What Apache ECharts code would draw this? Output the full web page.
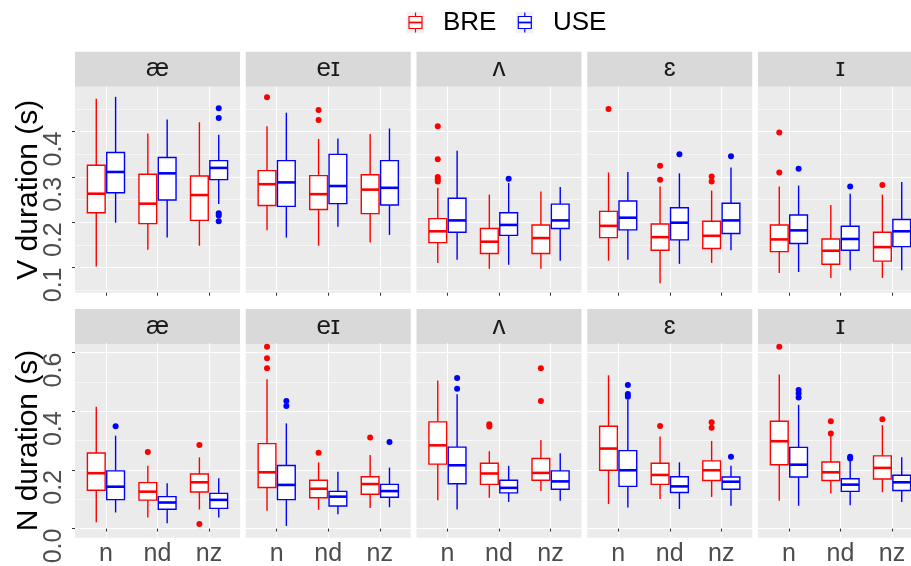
<!DOCTYPE html>
<html>
<head>
<meta charset="utf-8">
<script src="https://cdn.jsdelivr.net/npm/echarts@6/dist/echarts.min.js"></script>
<style>
html,body{margin:0;padding:0;background:#fff;}
#chart{width:911px;height:566px;}
</style>
</head>
<body>
<div id="chart"></div>
<script>
// ---------------- data ----------------
const vowels = ['æ', 'eɪ', 'ʌ', 'ɛ', 'ɪ'];
const contexts = ['n', 'nd', 'nz'];
const groups = ['BRE', 'USE'];
const rowTitles = ['V duration (s)', 'N duration (s)'];

// y tick labels
const vTicks = [0.1, 0.2, 0.3, 0.4];
const vMinor = [0.05, 0.15, 0.25, 0.35, 0.45];
const nTicks = [0.0, 0.2, 0.4, 0.6];
const nMinor = [0.1, 0.3, 0.5];

// boxes: per vowel -> [n, nd, nz] -> [lower whisker, Q1, median, Q3, upper whisker]
const vBRE = [
  [[0.102,0.221,0.263,0.326,0.473],[0.139,0.197,0.241,0.306,0.396],[0.148,0.204,0.260,0.302,0.421]],
  [[0.182,0.237,0.284,0.314,0.412],[0.148,0.228,0.262,0.303,0.384],[0.155,0.219,0.272,0.305,0.395]],
  [[0.110,0.155,0.180,0.208,0.276],[0.097,0.131,0.157,0.186,0.261],[0.097,0.131,0.165,0.194,0.268]],
  [[0.115,0.166,0.192,0.224,0.310],[0.065,0.138,0.167,0.196,0.279],[0.110,0.142,0.170,0.202,0.270]],
  [[0.088,0.135,0.162,0.194,0.279],[0.077,0.107,0.137,0.163,0.238],[0.077,0.114,0.145,0.178,0.261]]
];
const vUSE = [
  [[0.199,0.265,0.311,0.354,0.477],[0.166,0.249,0.308,0.343,0.427],[0.240,0.294,0.320,0.336,0.393]],
  [[0.166,0.235,0.288,0.336,0.442],[0.190,0.241,0.280,0.350,0.385],[0.172,0.238,0.276,0.336,0.407]],
  [[0.117,0.178,0.204,0.253,0.358],[0.106,0.171,0.194,0.221,0.287],[0.115,0.186,0.204,0.240,0.278]],
  [[0.117,0.183,0.210,0.247,0.311],[0.108,0.161,0.199,0.232,0.308],[0.138,0.175,0.204,0.242,0.321]],
  [[0.090,0.153,0.182,0.216,0.281],[0.094,0.138,0.163,0.191,0.263],[0.094,0.146,0.180,0.206,0.289]]
];
const vOutBRE = [
  [[], [], []],
  [[0.476], [0.448, 0.426], []],
  [[0.412, 0.339, 0.300, 0.295, 0.290], [], []],
  [[0.450], [0.325, 0.294], [0.301, 0.290]],
  [[0.398, 0.310], [], [0.282]]
];
const vOutUSE = [
  [[], [], [0.452, 0.430, 0.220, 0.215, 0.202]],
  [[], [], []],
  [[], [0.296], []],
  [[], [0.350], [0.346]],
  [[0.318], [0.279], []]
];

const nBRE = [
  [[0.022,0.131,0.189,0.258,0.416],[0.038,0.097,0.126,0.157,0.214],[0.065,0.125,0.158,0.186,0.243]],
  [[0.061,0.140,0.192,0.290,0.509],[0.064,0.105,0.136,0.165,0.226],[0.070,0.117,0.152,0.177,0.251]],
  [[0.097,0.220,0.284,0.364,0.505],[0.105,0.151,0.188,0.223,0.264],[0.128,0.165,0.190,0.239,0.302]],
  [[0.084,0.199,0.273,0.349,0.523],[0.101,0.151,0.183,0.223,0.314],[0.108,0.164,0.199,0.231,0.299]],
  [[0.095,0.218,0.298,0.366,0.526],[0.120,0.164,0.192,0.227,0.317],[0.124,0.169,0.207,0.248,0.353]]
];
const nUSE = [
  [[0.055,0.099,0.143,0.197,0.317],[0.018,0.066,0.089,0.109,0.155],[0.038,0.069,0.098,0.120,0.172]],
  [[0.009,0.099,0.149,0.215,0.359],[0.049,0.077,0.109,0.127,0.194],[0.073,0.107,0.128,0.151,0.208]],
  [[0.065,0.153,0.216,0.278,0.458],[0.091,0.122,0.139,0.165,0.214],[0.095,0.134,0.161,0.197,0.257]],
  [[0.072,0.144,0.199,0.266,0.439],[0.067,0.123,0.144,0.177,0.226],[0.078,0.134,0.160,0.176,0.214]],
  [[0.078,0.176,0.218,0.277,0.422],[0.080,0.127,0.150,0.170,0.232],[0.091,0.130,0.158,0.182,0.243]]
];
const nOutBRE = [
  [[], [0.261], [0.285, 0.016]],
  [[0.620, 0.581, 0.547], [0.259], [0.311]],
  [[], [0.356, 0.348], [0.547, 0.435]],
  [[], [0.350], [0.363, 0.344]],
  [[0.620], [0.366, 0.324], [0.373]]
];
const nOutUSE = [
  [[0.349], [], []],
  [[0.435, 0.418], [], [0.295]],
  [[0.514, 0.477], [], []],
  [[0.490, 0.459, 0.450], [], [0.245]],
  [[0.473, 0.461, 0.447], [0.245, 0.239], []]
];

// ---------------- layout / style ----------------
const FONT = '"Liberation Sans", Arial, Helvetica, sans-serif';
const COLORS = { BRE: '#FF0000', USE: '#0000FF' };
const PANEL_LEFT = 75, PANEL_STEP = 170.75, PANEL_W = 165;
const ROWS = [
  { stripTop: 51.7, top: 86.7, h: 206.0, min: 0.0443, max: 0.4994, ticks: vTicks, minor: vMinor, showX: false,
    box: { BRE: vBRE, USE: vUSE }, out: { BRE: vOutBRE, USE: vOutUSE } },
  { stripTop: 309.0, top: 343.3, h: 194.4, min: -0.031, max: 0.632, ticks: nTicks, minor: nMinor, showX: true,
    box: { BRE: nBRE, USE: nUSE }, out: { BRE: nOutBRE, USE: nOutUSE } }
];
const STRIP_H = 35;
const DODGE = { BRE: -0.1875, USE: 0.1875 };
const BOX_HALF = 0.172;

function boxRenderer(color) {
  return function (params, api) {
    const x = api.value(0);
    const lo = api.coord([x, api.value(1)]);
    const q1 = api.coord([x, api.value(2)]);
    const md = api.coord([x, api.value(3)]);
    const q3 = api.coord([x, api.value(4)]);
    const hi = api.coord([x, api.value(5)]);
    const hw = api.size([BOX_HALF, 0])[0];
    const cx = lo[0];
    return {
      type: 'group',
      children: [
        { type: 'line', shape: { x1: cx, y1: lo[1], x2: cx, y2: q1[1] }, style: { stroke: color, lineWidth: 1.4 } },
        { type: 'line', shape: { x1: cx, y1: q3[1], x2: cx, y2: hi[1] }, style: { stroke: color, lineWidth: 1.4 } },
        { type: 'rect', shape: { x: cx - hw, y: q3[1], width: 2 * hw, height: q1[1] - q3[1] },
          style: { fill: '#FFFFFF', stroke: color, lineWidth: 1.4 } },
        { type: 'line', shape: { x1: cx - hw, y1: md[1], x2: cx + hw, y2: md[1] }, style: { stroke: color, lineWidth: 2.6 } }
      ]
    };
  };
}

const grid = [], xAxis = [], yAxis = [], series = [], graphic = [];

ROWS.forEach((row, r) => {
  vowels.forEach((vw, c) => {
    const g = r * vowels.length + c;
    const left = PANEL_LEFT + c * PANEL_STEP;
    grid.push({ left: left, top: row.top, width: PANEL_W, height: row.h, show: true,
      backgroundColor: '#EBEBEB', borderWidth: 0, containLabel: false, outerBoundsMode: 'none' });
    xAxis.push({
      gridIndex: g, type: 'value', min: 0.4, max: 3.6,
      axisLine: { show: false },
      axisTick: { show: true, length: 3, lineStyle: { color: '#333333', width: 1 }, customValues: [1, 2, 3] },
      axisLabel: { show: row.showX, customValues: [1, 2, 3], formatter: v => contexts[Math.round(v) - 1],
        fontSize: 25, color: '#4D4D4D', fontFamily: FONT, margin: 4 },
      splitLine: { show: true, lineStyle: { color: '#FFFFFF', width: 1.1 }, customValues: [1, 2, 3] }
    });
    // major y axis
    yAxis.push({
      gridIndex: g, type: 'value', min: row.min, max: row.max,
      axisLine: { show: false },
      axisTick: { show: c === 0, length: 3, lineStyle: { color: '#333333', width: 1 }, customValues: row.ticks },
      axisLabel: { show: c === 0, customValues: row.ticks, formatter: v => v.toFixed(1), rotate: 90,
        align: 'right', verticalAlign: 'middle', margin: 21,
        fontSize: 25, color: '#4D4D4D', fontFamily: FONT },
      splitLine: { show: true, lineStyle: { color: '#FFFFFF', width: 1.1 }, customValues: row.ticks }
    });
    // minor grid y axis
    yAxis.push({
      gridIndex: g, type: 'value', min: row.min, max: row.max,
      axisLine: { show: false },
      axisTick: { show: false, customValues: row.minor },
      axisLabel: { show: false, customValues: row.minor },
      splitLine: { show: true, lineStyle: { color: '#FFFFFF', width: 0.55 }, customValues: row.minor }
    });
    groups.forEach(grp => {
      const boxData = row.box[grp][c].map((b, k) => [k + 1 + DODGE[grp]].concat(b));
      series.push({
        type: 'custom', xAxisIndex: g, yAxisIndex: 2 * g, silent: true, animation: false,
        renderItem: boxRenderer(COLORS[grp]),
        encode: { x: 0, y: [1, 2, 3, 4, 5] },
        data: boxData, z: 3
      });
      const outData = [];
      row.out[grp][c].forEach((vals, k) => vals.forEach(v => outData.push([k + 1 + DODGE[grp], v])));
      series.push({
        type: 'scatter', xAxisIndex: g, yAxisIndex: 2 * g, silent: true, animation: false,
        symbol: 'circle', symbolSize: 6, itemStyle: { color: COLORS[grp], opacity: 1 },
        data: outData, z: 4
      });
    });
    // strip
    graphic.push({ type: 'rect', left: left, top: row.stripTop, shape: { width: PANEL_W, height: STRIP_H },
      style: { fill: '#D9D9D9' }, silent: true });
    graphic.push({ type: 'text', x: left + PANEL_W / 2, y: row.stripTop + STRIP_H / 2,
      style: { text: vw, fontSize: 26, fontFamily: FONT, fill: '#1A1A1A', align: 'center', verticalAlign: 'middle' },
      silent: true });
  });
  // row title
  graphic.push({ type: 'text', x: 29, y: row.top + row.h / 2, rotation: Math.PI / 2,
    style: { text: rowTitles[r], fontSize: 30, fontFamily: FONT, fill: '#000000', align: 'center', verticalAlign: 'middle' },
    silent: true });
});

// legend (drawn as graphic)
const legendItems = [
  { name: groups[0], keyX: 406.7, textX: 443 },
  { name: groups[1], keyX: 516.0, textX: 553 }
];
legendItems.forEach(it => {
  const col = COLORS[it.name];
  const cx = it.keyX + 8.8;
  graphic.push({ type: 'rect', shape: { x: it.keyX, y: 11.7, width: 17.6, height: 21.6 }, style: { fill: '#F2F2F2' }, silent: true });
  graphic.push({ type: 'line', shape: { x1: cx, y1: 12.5, x2: cx, y2: 32.5 }, style: { stroke: col, lineWidth: 1.2 }, silent: true });
  graphic.push({ type: 'rect', shape: { x: cx - 6.5, y: 16.5, width: 13, height: 12 }, style: { fill: '#FFFFFF', stroke: col, lineWidth: 1.2 }, silent: true });
  graphic.push({ type: 'line', shape: { x1: cx - 6.5, y1: 22.5, x2: cx + 6.5, y2: 22.5 }, style: { stroke: col, lineWidth: 1.8 }, silent: true });
  graphic.push({ type: 'text', x: it.textX, y: 22.5,
    style: { text: it.name, fontSize: 26, fontFamily: FONT, fill: '#000000', align: 'left', verticalAlign: 'middle' }, silent: true });
});

const chart = echarts.init(document.getElementById('chart'), null, { renderer: 'canvas' });
chart.setOption({
  backgroundColor: '#FFFFFF',
  animation: false,
  grid: grid, xAxis: xAxis, yAxis: yAxis, series: series, graphic: graphic
});
</script>
</body>
</html>
